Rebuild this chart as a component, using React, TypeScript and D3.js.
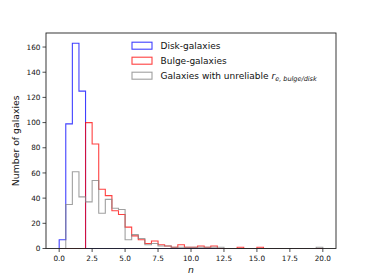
import React from 'react'
import * as d3 from 'd3'

// histogram counts, 40 bins of width 0.5 from n = 0 to n = 20
const binEdges = d3.range(0, 20.01, 0.5)
const diskCounts = [7, 99, 163, 125, 0, 0, 0, 0, 0, 0,
  0, 0, 0, 0, 0, 0, 0, 0, 0, 0,
  0, 0, 0, 0, 0, 0, 0, 0, 0, 0,
  0, 0, 0, 0, 0, 0, 0, 0, 0, 0]
const bulgeCounts = [0, 0, 0, 0, 100, 83, 47, 42, 30, 27,
  17, 10, 7, 4, 6, 3, 2, 1, 3, 1,
  1, 2, 1, 2, 0, 0, 0, 1, 0, 0,
  1, 0, 0, 0, 0, 0, 0, 0, 0, 0]
const unreliableCounts = [0, 35, 61, 41, 37, 54, 28, 39, 32, 31,
  7, 11, 8, 3, 4, 2, 2, 1, 1, 1,
  1, 1, 1, 1, 1, 0, 0, 0, 0, 0,
  0, 0, 0, 0, 0, 0, 0, 0, 0, 1]
const xTicks = [0, 2.5, 5, 7.5, 10, 12.5, 15, 17.5, 20]
const yTicks = [0, 20, 40, 60, 80, 100, 120, 140, 160]

const font = 'DejaVu Sans, sans-serif'

function stepPath(counts, x, y) {
  const pts = [[binEdges[0], 0]]
  counts.forEach((c, i) => {
    pts.push([binEdges[i], c])
    pts.push([binEdges[i + 1], c])
  })
  pts.push([binEdges[binEdges.length - 1], 0])
  return d3.line().x(d => x(d[0])).y(d => y(d[1]))(pts)
}

export default function App() {
  const width = 374
  const height = 280
  const left = 46, right = 336, top = 33, bottom = 248.5

  const x = d3.scaleLinear().domain([-1, 21]).range([left, right])
  const y = d3.scaleLinear().domain([0, 163 * 1.05]).range([bottom, top])

  const series = [
    { counts: diskCounts, color: 'blue', label: 'Disk-galaxies' },
    { counts: bulgeCounts, color: 'red', label: 'Bulge-galaxies' },
    { counts: unreliableCounts, color: 'gray', label: null },
  ]

  return (
    <svg width={width} height={height} style={{ position: 'absolute', left: 0, top: 0 }} fontFamily={font}>
      <rect width={width} height={height} fill="white" />
      {series.map((s, i) => (
        <path key={i} d={stepPath(s.counts, x, y)} fill="none" stroke={s.color}
          strokeOpacity={0.75} strokeWidth={1.1} />
      ))}
      <rect x={left} y={top} width={right - left} height={bottom - top} fill="none" stroke="#222" strokeWidth={0.9} />
      {xTicks.map(t => (
        <g key={t} transform={`translate(${x(t)},${bottom})`}>
          <line y2={3.5} stroke="#222" strokeWidth={0.8} />
          <text y={12.5} textAnchor="middle" fontSize={7.3} fill="#111">{t.toFixed(1)}</text>
        </g>
      ))}
      {yTicks.map(t => (
        <g key={t} transform={`translate(${left},${y(t)})`}>
          <line x2={-3.5} stroke="#222" strokeWidth={0.8} />
          <text x={-5.5} dy="0.35em" textAnchor="end" fontSize={7.3} fill="#111">{t}</text>
        </g>
      ))}
      <text transform={`translate(19,${(top + bottom) / 2}) rotate(-90)`} textAnchor="middle" fontSize={9.3} fill="#111">Number of galaxies</text>
      <text x={(left + right) / 2} y={273} textAnchor="middle" fontSize={9.3} fontStyle="italic" fill="#111">n</text>
      {series.map((s, i) => {
        const cy = 45.7 + i * 15
        return (
          <g key={i}>
            <rect x={132} y={cy - 3.5} width={20} height={7} fill="none" stroke={s.color} strokeOpacity={0.75} strokeWidth={1.1} />
            <text x={160.5} y={cy} dy="0.35em" fontSize={9} fill="#111">
              {s.label ?? (
                <>
                  Galaxies with unreliable <tspan fontStyle="italic">r</tspan>
                  <tspan fontStyle="italic" fontSize={6.5} dy={2.5}>e, bulge/disk</tspan>
                </>
              )}
            </text>
          </g>
        )
      })}
    </svg>
  )
}
